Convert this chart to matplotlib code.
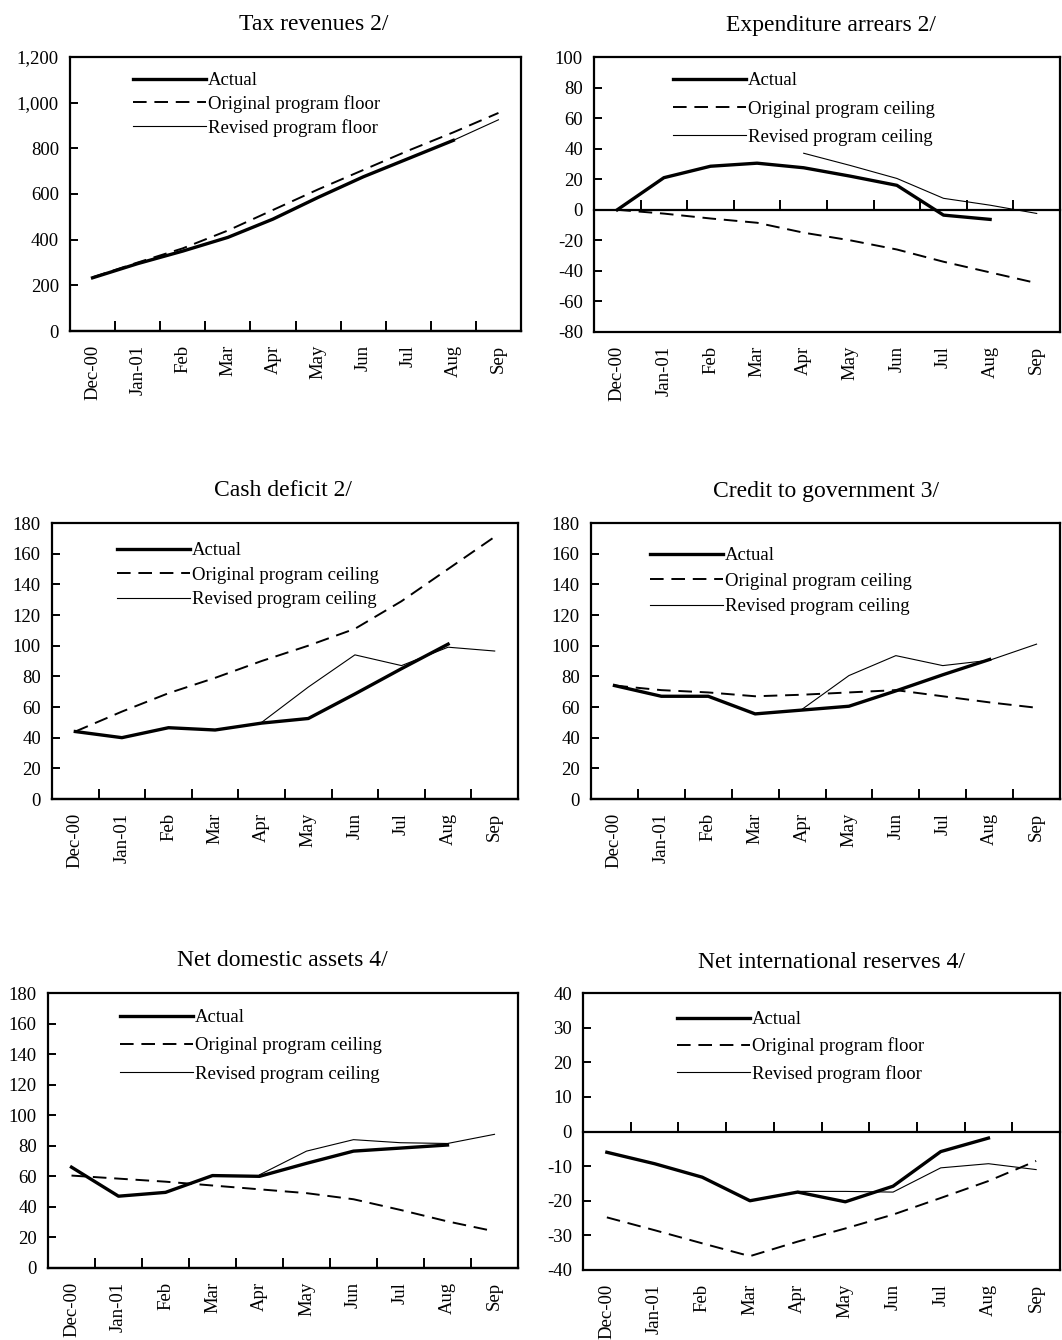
import numpy as np
import matplotlib
matplotlib.use("Agg")
import matplotlib.pyplot as plt
from matplotlib.ticker import FuncFormatter

plt.rcParams['font.family'] = ['Liberation Serif', 'DejaVu Serif']
plt.rcParams['axes.unicode_minus'] = False

months = ["Dec-00", "Jan-01", "Feb", "Mar", "Apr", "May", "Jun", "Jul", "Aug", "Sep"]
nan = np.nan

# Tax revenues 2/
tax_actual = [233, 295, 350, 410, 490, 585, 675, 755, 835, nan]
tax_original = [235, 300, 362, 440, 530, 620, 705, 790, 870, 955]
tax_revised = [nan, nan, nan, 410, 490, 585, 675, 755, 835, 925]

# Expenditure arrears 2/
arr_actual = [0, 21, 28.5, 30.5, 27.5, 22, 16, -3.5, -6.3, nan]
arr_original = [0, -2.5, -5.7, -8.5, -15, -20, -26, -34, -41, -48]
arr_revised = [nan, nan, nan, nan, 37, 29, 20.5, 7.5, 3, -2.4]

# Cash deficit 2/
cash_actual = [44, 40, 46.5, 45, 49.5, 52.5, 68.5, 85, 101, nan]
cash_original = [44, 57, 69, 79, 90, 100, 111, 129, 150, 171]
cash_revised = [nan, nan, nan, nan, 50, 73, 94, 87, 99, 96.5]

# Credit to government 3/
cred_actual = [74, 67, 67, 55.5, 58, 60.5, 70.5, 81, 91, nan]
cred_original = [74, 71, 69.5, 67, 68, 69.5, 71, 67, 63, 59.5]
cred_revised = [nan, nan, nan, nan, 58.5, 80.5, 93.5, 87, 90.5, 101]

# Net domestic assets 4/
nda_actual = [66, 47, 49.5, 60.5, 60, 68.5, 76.5, 78.5, 80.5, nan]
nda_original = [60.5, 58.5, 56.5, 54, 51.5, 49, 45, 38, 30.5, 24]
nda_revised = [nan, nan, nan, nan, 61, 76.5, 84, 82, 81.5, 87.5]

# Net international reserves 4/
nir_actual = [-6, -9.3, -13.2, -20, -17.5, -20.3, -15.8, -5.8, -1.9, nan]
nir_original = [-24.8, -28.5, -32.3, -36, -31.8, -28, -24, -19.2, -14.3, -8.5]
nir_revised = [nan, nan, nan, nan, -17.3, -17.3, -17.5, -10.5, -9.3, -11]

W, H = 1062, 1340
fig = plt.figure(figsize=(W / 100, H / 100), dpi=100)
FS = 13.5


def panel(box, title, title_xy, ylim, ystep, actual, original, revised, kind,
          leg_xy, leg_space, comma=False):
    l, r, t, b = box
    ax = fig.add_axes([l / W, 1 - b / H, (r - l) / W, (b - t) / H])
    x = np.arange(len(months))
    ax.plot(x, actual, color='black', lw=2.4, label='Actual')
    ax.plot(x, original, color='black', lw=1.4, dashes=(7, 4),
            label='Original program ' + kind)
    ax.plot(x, revised, color='black', lw=0.8, label='Revised program ' + kind)

    ax.set_xlim(-0.5, 9.5)
    ax.set_ylim(*ylim)
    ax.set_yticks(np.arange(ylim[0], ylim[1] + ystep / 2, ystep))
    if comma:
        ax.yaxis.set_major_formatter(FuncFormatter(lambda v, p: f"{int(v):,}"))
    ax.tick_params(axis='y', direction='in', length=6, width=1.4, pad=8,
                   labelsize=FS)
    for s in ax.spines.values():
        s.set_linewidth(1.6)

    # category axis crosses at zero, labels stay at the bottom
    ax.spines['bottom'].set_position(('data', 0))
    ax.set_xticks(np.arange(0.5, 9.0, 1.0))
    ax.tick_params(axis='x', direction='in', length=7, width=1.4,
                   labelbottom=False)
    lab = ax.secondary_xaxis(0)
    lab.set_xticks(x, months)
    lab.tick_params(length=0, pad=10, labelsize=FS, labelrotation=90)
    lab.spines['bottom'].set_linewidth(1.6)

    lx = (leg_xy[0] - l) / (r - l)
    ly = (b - (leg_xy[1] - 8)) / (b - t)
    ax.legend(loc='upper left', bbox_to_anchor=(lx, ly), frameon=False,
              fontsize=FS, handlelength=3.9, handletextpad=0.1,
              borderpad=0, borderaxespad=0, labelspacing=leg_space)

    fig.text(title_xy[0] / W, 1 - title_xy[1] / H, title, ha='center',
             va='center', fontsize=17)
    return ax


panel((70, 521, 57, 331), "Tax revenues 2/", (314, 25), (0, 1200), 200,
      tax_actual, tax_original, tax_revised, "floor", (133, 80), 0.32, comma=True)
panel((594, 1060, 57, 332), "Expenditure arrears 2/", (831, 25), (-80, 100), 20,
      arr_actual, arr_original, arr_revised, "ceiling", (673, 80), 0.6)
panel((52, 518, 523, 799), "Cash deficit 2/", (283, 490), (0, 180), 20,
      cash_actual, cash_original, cash_revised, "ceiling", (117, 550), 0.4)
panel((591, 1060, 523, 799), "Credit to government 3/", (826, 492), (0, 180), 20,
      cred_actual, cred_original, cred_revised, "ceiling", (650, 555), 0.45)
panel((48, 518, 993, 1268), "Net domestic assets 4/", (282, 960), (0, 180), 20,
      nda_actual, nda_original, nda_revised, "ceiling", (120, 1017), 0.6)
panel((583, 1060, 993, 1270), "Net international reserves 4/", (832, 963), (-40, 40), 10,
      nir_actual, nir_original, nir_revised, "floor", (677, 1019), 0.5)

fig.savefig("out.png", dpi=100, facecolor='white')
